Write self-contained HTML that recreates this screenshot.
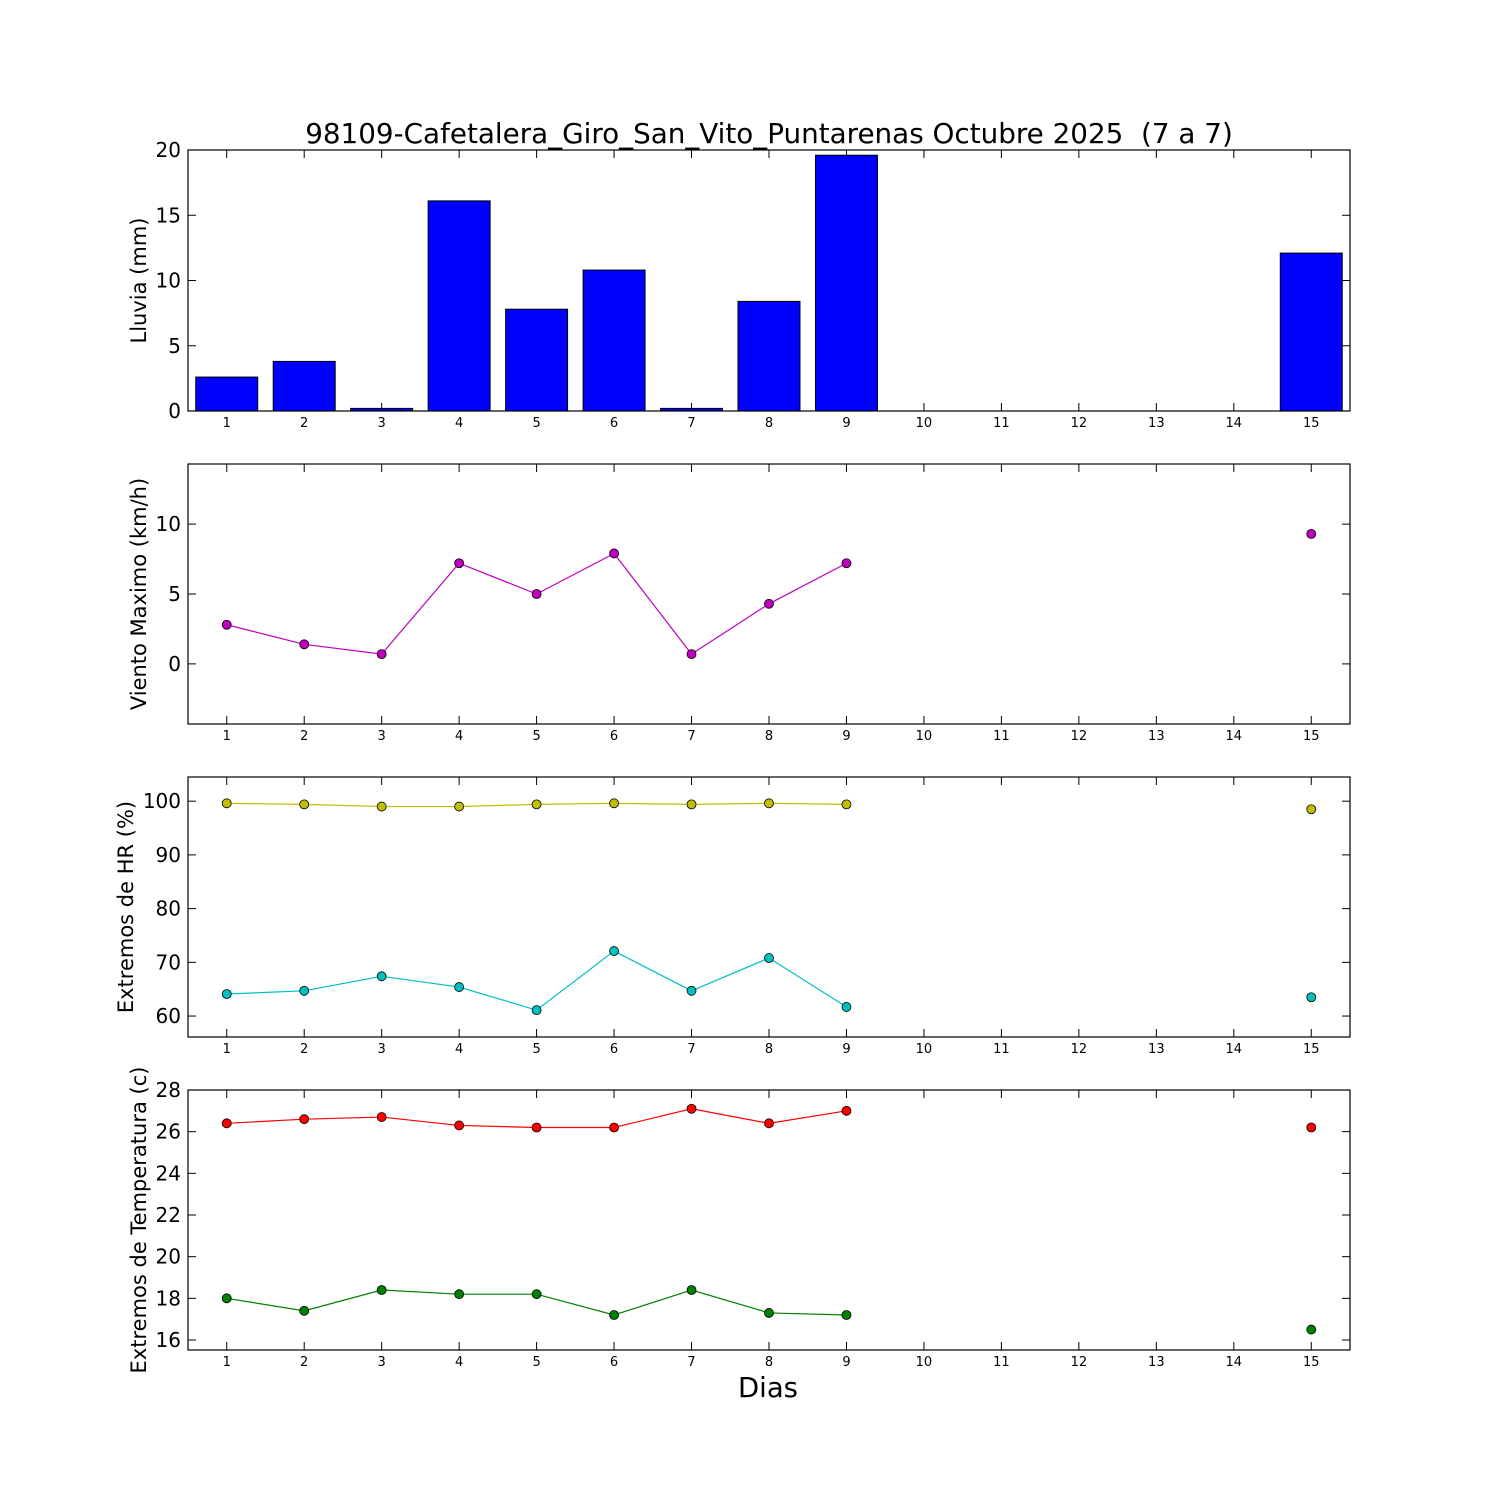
<!DOCTYPE html>
<html><head><meta charset="utf-8"><style>
html,body{margin:0;padding:0;background:#fff}
svg{display:block;font-family:"DejaVu Sans","Liberation Sans",sans-serif}
text{white-space:pre}
</style></head><body>
<svg id="c" width="1500" height="1500" viewBox="0 0 1500 1500"></svg>
<script>
const days = [1,2,3,4,5,6,7,8,9,10,11,12,13,14,15];
const rainDays = [1,2,3,4,5,6,7,8,9,15];
const rainValues = [2.6,3.8,0.2,16.1,7.8,10.8,0.2,8.4,19.6,12.1];
const windValues = [2.8,1.4,0.7,7.2,5.0,7.9,0.7,4.3,7.2,9.3];
const hrMaxValues = [99.6,99.4,99.0,99.0,99.4,99.6,99.4,99.6,99.4,98.5];
const hrMinValues = [64.1,64.7,67.4,65.4,61.1,72.1,64.7,70.8,61.7,63.5];
const tMaxValues = [26.4,26.6,26.7,26.3,26.2,26.2,27.1,26.4,27.0,26.2];
const tMinValues = [18.0,17.4,18.4,18.2,18.2,17.2,18.4,17.3,17.2,16.5];
const rainTicks = [0,5,10,15,20];
const windTicks = [0,5,10];
const hrTicks = [60,70,80,90,100];
const tTicks = [16,18,20,22,24,26,28];

const svg = document.getElementById('c');
const NS = 'http://www.w3.org/2000/svg';
function mk(tag, attrs, parent, text){
  const e = document.createElementNS(NS, tag);
  for (const k in attrs) e.setAttribute(k, attrs[k]);
  if (text !== undefined) e.textContent = text;
  (parent||svg).appendChild(e);
  return e;
}
const X0=188, X1=1350;
const xs = d => X0 + (d-0.5)/15*(X1-X0);

function panel(name, top, bottom, ymin, ymax, ticks, label, labelX){
  const g = mk('g', {});
  
  
  const ys = v => bottom - (v-ymin)/(ymax-ymin)*(bottom-top);
  ticks.forEach(t=>{
    const y = ys(t);
    mk('line',{x1:X0,x2:X0+8,y1:y,y2:y,stroke:'#000','stroke-width':1},g);
    mk('line',{x1:X1,x2:X1-8,y1:y,y2:y,stroke:'#000','stroke-width':1},g);
    const tl = mk('text',{x:X0-7,y:y+7,'font-size':20,'text-anchor':'end'},g,String(t));
    
    
  });
  days.forEach(d=>{
    const x = xs(d);
    mk('line',{x1:x,x2:x,y1:bottom,y2:bottom-8,stroke:'#000','stroke-width':1},g);
    mk('line',{x1:x,x2:x,y1:top,y2:top+8,stroke:'#000','stroke-width':1},g);
    const tl = mk('text',{x:x,y:bottom+16,'font-size':13,'text-anchor':'middle'},g,String(d));
    
    
  });
  const cy=(top+bottom)/2;
  const yl = mk('text',{x:labelX,y:cy,'font-size':21,'text-anchor':'middle',transform:`rotate(-90 ${labelX} ${cy})`},g,label);
  
  
  return {g, ys, top, bottom};
}
function frame(p){
  mk('rect',{x:X0,y:p.top,width:X1-X0,height:p.bottom-p.top,fill:'none',stroke:'#000','stroke-width':1.2},p.g);
}
function series(p, name, vals, color){
  const pts = [];
  for (let i=0;i<9;i++) pts.push(xs(rainDays[i])+','+p.ys(vals[i]));
  const l = mk('polyline',{points:pts.join(' '),fill:'none',stroke:color,'stroke-width':1.2},p.g);
  
  
  vals.forEach((v,i)=>{
    const c = mk('circle',{cx:xs(rainDays[i]),cy:p.ys(v),r:4.5,fill:color,stroke:'#000','stroke-width':0.8},p.g);
    
    
  });
}

const t = mk('text',{x:769,y:143,'font-size':27.8,'text-anchor':'middle'},svg,'98109-Cafetalera_Giro_San_Vito_Puntarenas Octubre 2025  (7 a 7)');



const p1 = panel('rain',150,411,0,20,rainTicks,'Lluvia (mm)',146);
rainValues.forEach((v,i)=>{
  const d = rainDays[i];
  const b = mk('rect',{x:xs(d-0.4),y:p1.ys(v),width:xs(d+0.4)-xs(d-0.4),height:p1.ys(0)-p1.ys(v),fill:'#0000ff',stroke:'#000','stroke-width':1},p1.g);
  
  
});
frame(p1);

const p2 = panel('wind',464,724,-4.3,14.3,windTicks,'Viento Maximo (km/h)',146);
series(p2,'wind',windValues,'#bf00bf');
frame(p2);

const p3 = panel('hr',777,1037,56.1,104.5,hrTicks,'Extremos de HR (%)',133);
series(p3,'hr-max',hrMaxValues,'#bfbf00');
series(p3,'hr-min',hrMinValues,'#00bfbf');
frame(p3);

const p4 = panel('temp',1090,1350,15.52,28,tTicks,'Extremos de Temperatura (c)',146);
series(p4,'temp-max',tMaxValues,'#ff0000');
series(p4,'temp-min',tMinValues,'#008000');
frame(p4);

const xl = mk('text',{x:768,y:1397,'font-size':27.5,'text-anchor':'middle'},svg,'Dias');


</script>
</body></html>
